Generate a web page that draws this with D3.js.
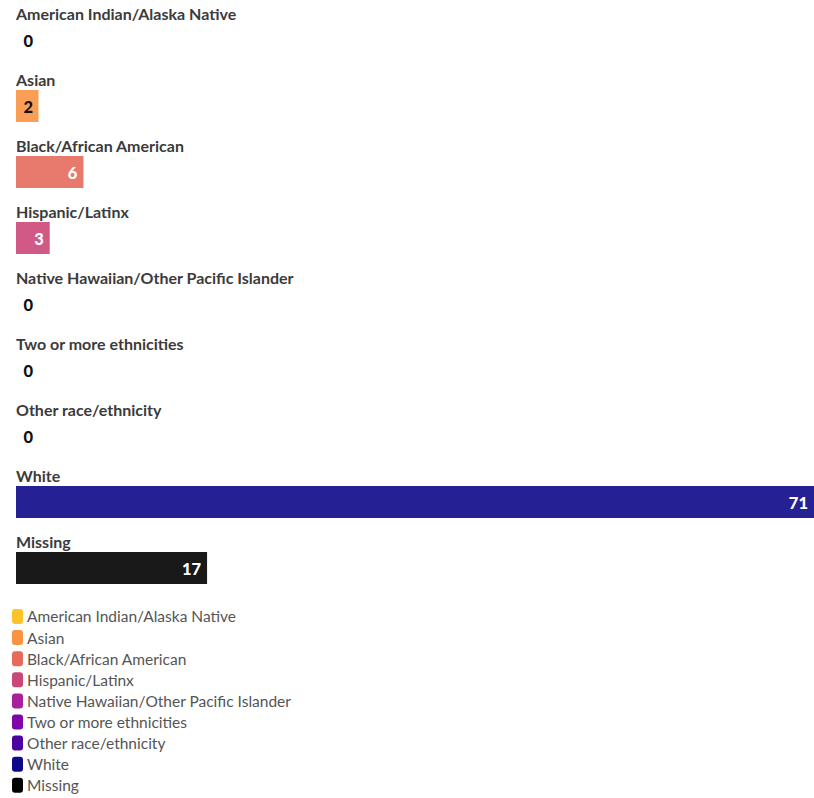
<!DOCTYPE html>
<html>
<head>
<meta charset="utf-8">
<script src="https://cdn.jsdelivr.net/npm/d3@7"></script>
<style>
  body { margin: 0; background: #fff; font-family: Lato, "Noto Sans", sans-serif; }
  .cat-label { font-weight: bold; font-size: 16px; fill: #3b3b3b; }
  .val-label { font-weight: 900; font-size: 16.5px; }
  .legend-text { font-size: 15.5px; fill: #555; }
</style>
</head>
<body>
<svg id="chart"></svg>
<script>
/* Data */
const categories = [
  "American Indian/Alaska Native",
  "Asian",
  "Black/African American",
  "Hispanic/Latinx",
  "Native Hawaiian/Other Pacific Islander",
  "Two or more ethnicities",
  "Other race/ethnicity",
  "White",
  "Missing"
];
const values = [0, 2, 6, 3, 0, 0, 0, 71, 17];
const colors = ["#fdc328", "#f89441", "#e56b5d", "#cb4778", "#a8219a", "#7e03a8", "#4c02a1", "#0d0887", "#000000"];

const rows = categories.map((c, i) => ({ name: c, value: values[i], color: colors[i] }));

/* Dimensions */
const width = 814, height = 798;
const svg = d3.select("#chart").attr("width", width).attr("height", height);

const x = d3.scaleLinear().domain([0, d3.max(values)]).range([16, 814]);
const y = d3.scaleBand().domain(categories).range([0, 594]).paddingInner(0).paddingOuter(0);
const barH = 32;

const row = svg.selectAll(".row")
  .data(rows)
  .join("g")
    .attr("class", "row")
    .attr("transform", d => `translate(0, ${y(d.name)})`);

/* category label */
row.append("text")
  .attr("class", "cat-label")
  .attr("x", 16)
  .attr("y", 19.5)
  .text(d => d.name);

/* bar */
row.append("rect")
  .attr("x", x(0))
  .attr("y", 24)
  .attr("width", d => x(d.value) - x(0))
  .attr("height", barH)
  .attr("fill", d => d.color)
  .attr("fill-opacity", 0.9);

/* value label: inside the bar end, or just past the axis when the bar is too short */
row.append("text")
  .attr("class", "val-label")
  .attr("x", d => Math.max(x(d.value) - 6, 33))
  .attr("y", 24 + barH / 2)
  .attr("dy", "0.42em")
  .attr("text-anchor", "end")
  .attr("fill", d => (d.value === 0 || d3.lab(d.color).l > 62) ? "#111" : "#fff")
  .text(d => d.value);

/* Legend */
const legend = svg.append("g").attr("transform", "translate(12, 609)");
const legRow = legend.selectAll("g")
  .data(rows)
  .join("g")
    .attr("transform", (d, i) => `translate(0, ${i * 21.1})`);

legRow.append("rect")
  .attr("width", 11)
  .attr("height", 15)
  .attr("rx", 3)
  .attr("fill", d => d.color);

legRow.append("text")
  .attr("class", "legend-text")
  .attr("x", 15)
  .attr("y", 8)
  .attr("dy", "0.35em")
  .text(d => d.name);
</script>
</body>
</html>
